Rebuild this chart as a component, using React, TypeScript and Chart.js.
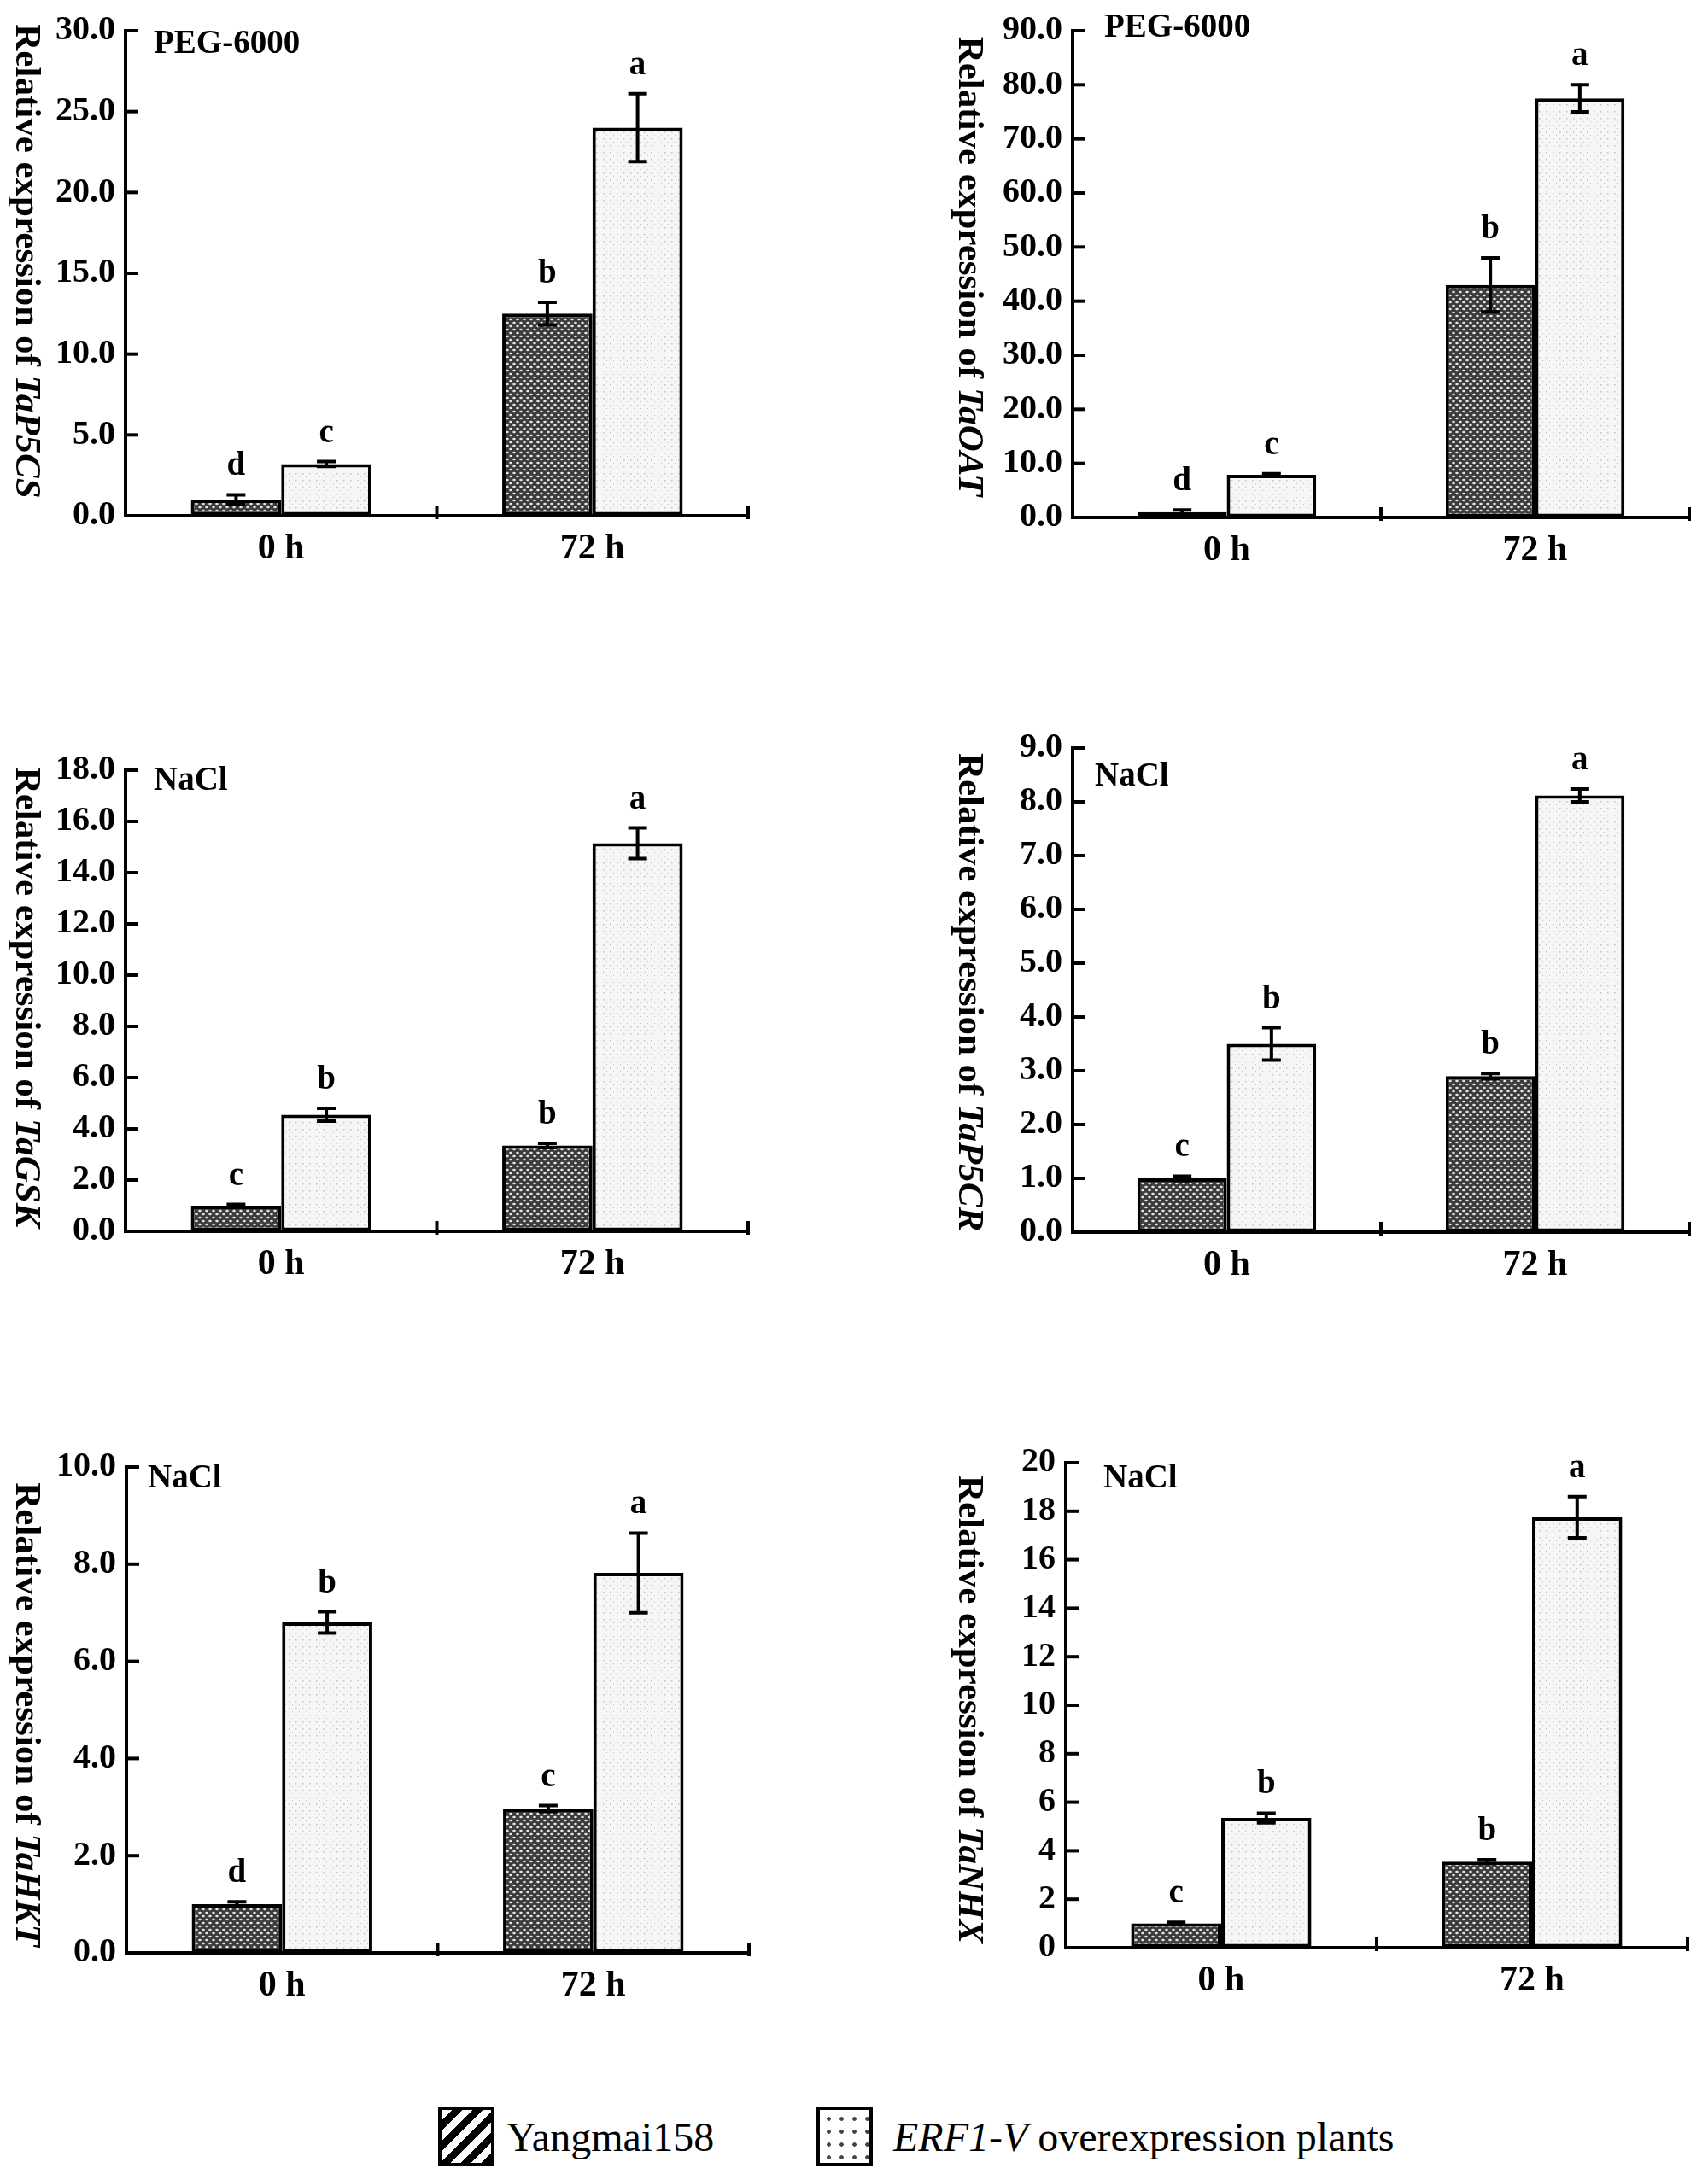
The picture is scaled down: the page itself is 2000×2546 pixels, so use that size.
import React, { useEffect, useRef } from "react";
import { Chart, registerables } from "chart.js";

Chart.register(...registerables);

const FONT = '"Times New Roman", "Liberation Serif", serif';

// ---- data ----
const timePoints = ["0 h", "72 h"];
const seriesLabels = ["Yangmai158", "ERF1-V overexpression plants"];
const genes = ["TaP5CS", "TaOAT", "TaGSK", "TaP5CR", "TaHKT", "TaNHX"];
const treatments = ["PEG-6000", "PEG-6000", "NaCl", "NaCl", "NaCl", "NaCl"];

const yangmaiMeans = [
  [1.0, 12.5],
  [1.0, 43.0],
  [1.0, 3.35],
  [1.0, 2.9],
  [1.0, 2.97],
  [1.0, 3.55],
];
const yangmaiErrors = [
  [0.3, 0.7],
  [0.4, 5.0],
  [0.05, 0.08],
  [0.04, 0.05],
  [0.05, 0.06],
  [0.05, 0.08],
];
const erfMeans = [
  [3.2, 24.0],
  [7.9, 77.5],
  [4.55, 15.15],
  [3.5, 8.12],
  [6.8, 7.82],
  [5.35, 17.75],
];
const erfErrors = [
  [0.15, 2.1],
  [0.2, 2.5],
  [0.25, 0.6],
  [0.3, 0.12],
  [0.22, 0.82],
  [0.2, 0.85],
];
const yangmaiLetters = [
  ["d", "b"],
  ["d", "b"],
  ["c", "b"],
  ["c", "b"],
  ["d", "c"],
  ["c", "b"],
];
const erfLetters = [
  ["c", "a"],
  ["c", "a"],
  ["b", "a"],
  ["b", "a"],
  ["b", "a"],
  ["b", "a"],
];
const axisMax = [30, 90, 18, 9, 10, 20];
const axisStep = [5, 10, 2, 1, 2, 2];
const tickDecimals = [1, 1, 1, 1, 1, 0];

// ---- layout (page pixels) ----
type Frame = {
  x: number;
  y: number;
  w: number;
  h: number;
  left: number;
  top: number;
  right: number;
  bottom: number;
  titleX: number;
  titleY: number;
  noteX: number;
  noteY: number;
};

const frames: Frame[] = [
  { x: 0, y: 0, w: 1000, h: 700, left: 147, top: 35, right: 876, bottom: 604, titleX: 30, titleY: 306, noteX: 180, noteY: 52 },
  { x: 1000, y: 0, w: 1000, h: 700, left: 1256, top: 30, right: 1978, bottom: 606, titleX: 1134, titleY: 312, noteX: 1293, noteY: 33 },
  { x: 0, y: 840, w: 1000, h: 700, left: 147, top: 902, right: 876, bottom: 1442, titleX: 30, titleY: 1168, noteX: 180, noteY: 915 },
  { x: 1000, y: 840, w: 1000, h: 700, left: 1256, top: 876, right: 1978, bottom: 1443, titleX: 1134, titleY: 1162, noteX: 1282, noteY: 910 },
  { x: 0, y: 1670, w: 1000, h: 700, left: 148, top: 1718, right: 877, bottom: 2287, titleX: 30, titleY: 2008, noteX: 173, noteY: 1732 },
  { x: 1000, y: 1670, w: 1000, h: 700, left: 1248, top: 1713, right: 1976, bottom: 2281, titleX: 1134, titleY: 2002, noteX: 1292, noteY: 1732 },
];

function makePattern(ctx: CanvasRenderingContext2D, dark: boolean) {
  const tile = document.createElement("canvas");
  tile.width = 8;
  tile.height = 8;
  const t = tile.getContext("2d")!;
  if (dark) {
    t.fillStyle = "#3c3c3c";
    t.fillRect(0, 0, 8, 8);
    t.fillStyle = "#e6e6e6";
    t.beginPath();
    t.ellipse(2, 2, 1.8, 1.3, 0, 0, Math.PI * 2);
    t.ellipse(6, 6, 1.8, 1.3, 0, 0, Math.PI * 2);
    t.fill();
  } else {
    t.fillStyle = "#f6f6f6";
    t.fillRect(0, 0, 8, 8);
    t.fillStyle = "#c4c4c4";
    t.fillRect(2, 2, 1.5, 1.5);
    t.fillRect(6, 6, 1, 1);
  }
  return ctx.createPattern(tile, "repeat") as CanvasPattern;
}

const decorPlugin = (idx: number) => ({
  id: "panelDecor",
  afterDatasetsDraw(chart: any) {
    const ctx: CanvasRenderingContext2D = chart.ctx;
    const f = frames[idx];
    const xs = chart.scales.x;
    const ys = chart.scales.y;
    const area = chart.chartArea;
    ctx.save();
    ctx.strokeStyle = "#000";
    ctx.fillStyle = "#000";

    // inward ticks on the y axis
    ctx.lineWidth = 4;
    ys.ticks.forEach((t: any) => {
      const y = ys.getPixelForValue(t.value);
      ctx.beginPath();
      ctx.moveTo(area.left, y);
      ctx.lineTo(area.left + 15, y);
      ctx.stroke();
    });

    // x axis ticks at category boundaries
    const mid = (xs.getPixelForValue(0) + xs.getPixelForValue(1)) / 2;
    [mid, area.right].forEach((x) => {
      ctx.beginPath();
      ctx.moveTo(x, area.bottom + 4);
      ctx.lineTo(x, area.bottom - 12);
      ctx.stroke();
    });

    // error bars and significance letters
    const series = [
      { means: yangmaiMeans, errors: yangmaiErrors, letters: yangmaiLetters },
      { means: erfMeans, errors: erfErrors, letters: erfLetters },
    ];
    series.forEach((s, dsIdx) => {
      const meta = chart.getDatasetMeta(dsIdx);
      meta.data.forEach((bar: any, i: number) => {
        const cx = bar.x;
        const m = s.means[idx][i];
        const e = s.errors[idx][i];
        const yTop = ys.getPixelForValue(m + e);
        const yBot = ys.getPixelForValue(m - e);
        ctx.lineWidth = 4;
        ctx.beginPath();
        ctx.moveTo(cx, yTop);
        ctx.lineTo(cx, yBot);
        ctx.moveTo(cx - 11, yTop);
        ctx.lineTo(cx + 11, yTop);
        ctx.moveTo(cx - 11, yBot);
        ctx.lineTo(cx + 11, yBot);
        ctx.stroke();
        ctx.font = `bold 39px ${FONT}`;
        ctx.textAlign = "center";
        ctx.textBaseline = "alphabetic";
        ctx.fillText(s.letters[idx][i], cx, yTop - 23);
      });
    });

    // treatment note
    ctx.font = `bold 39px ${FONT}`;
    ctx.textAlign = "left";
    ctx.textBaseline = "middle";
    ctx.fillText(treatments[idx], f.noteX - f.x, f.noteY - f.y);

    // rotated y title, reading top to bottom
    const pre = "Relative expression of ";
    const gene = genes[idx];
    ctx.translate(f.titleX - f.x, f.titleY - f.y);
    ctx.rotate(Math.PI / 2);
    ctx.font = `bold 43px ${FONT}`;
    const w1 = ctx.measureText(pre).width;
    ctx.font = `italic bold 43px ${FONT}`;
    const w2 = ctx.measureText(gene).width;
    const start = -(w1 + w2) / 2;
    ctx.textAlign = "left";
    ctx.textBaseline = "middle";
    ctx.font = `bold 43px ${FONT}`;
    ctx.fillText(pre, start, 0);
    ctx.font = `italic bold 43px ${FONT}`;
    ctx.fillText(gene, start + w1, 0);
    ctx.restore();
  },
});

export default function App() {
  const refs = useRef<(HTMLCanvasElement | null)[]>([]);

  useEffect(() => {
    const charts: Chart[] = [];
    frames.forEach((f, idx) => {
      const canvas = refs.current[idx];
      if (!canvas) return;
      const ctx = canvas.getContext("2d");
      if (!ctx) return;
      const darkFill = makePattern(ctx, true);
      const lightFill = makePattern(ctx, false);

      charts.push(
        new Chart(ctx, {
          type: "bar",
          data: {
            labels: timePoints,
            datasets: [
              {
                label: seriesLabels[0],
                data: yangmaiMeans[idx],
                backgroundColor: darkFill,
                borderColor: "#000",
                borderWidth: 4,
                borderSkipped: false,
                barPercentage: 1,
                categoryPercentage: 0.58,
              },
              {
                label: seriesLabels[1],
                data: erfMeans[idx],
                backgroundColor: lightFill,
                borderColor: "#000",
                borderWidth: 4,
                borderSkipped: false,
                barPercentage: 1,
                categoryPercentage: 0.58,
              },
            ],
          },
          options: {
            animation: false,
            responsive: false,
            layout: {
              padding: {
                left: 0,
                top: f.top - f.y,
                right: f.x + f.w - f.right,
                bottom: 0,
              },
            },
            plugins: {
              legend: { display: false },
              tooltip: { enabled: false },
            },
            scales: {
              x: {
                type: "category",
                offset: true,
                grid: { display: true, drawOnChartArea: false, drawTicks: false },
                border: { display: true, color: "#000", width: 4 },
                ticks: {
                  color: "#000",
                  font: { family: FONT, size: 42, weight: "bold" },
                  padding: 14,
                },
                afterFit: (s: any) => {
                  s.height = f.y + f.h - f.bottom;
                },
              },
              y: {
                min: 0,
                max: axisMax[idx],
                grid: { display: true, drawOnChartArea: false, drawTicks: false },
                border: { display: true, color: "#000", width: 4 },
                ticks: {
                  stepSize: axisStep[idx],
                  color: "#000",
                  font: { family: FONT, size: 40, weight: "bold" },
                  padding: 12,
                  callback: (v: any) => Number(v).toFixed(tickDecimals[idx]),
                },
                afterFit: (s: any) => {
                  s.width = f.left - f.x;
                },
              },
            },
          },
          plugins: [decorPlugin(idx)],
        })
      );
    });
    return () => charts.forEach((c) => c.destroy());
  }, []);

  const italicPart = seriesLabels[1].split(" ")[0];
  const restPart = seriesLabels[1].slice(italicPart.length);

  return (
    <div
      style={{
        position: "absolute",
        left: 0,
        top: 0,
        width: 2000,
        height: 2546,
        background: "#fff",
        overflow: "hidden",
      }}
    >
      {frames.map((f, idx) => (
        <canvas
          key={idx}
          ref={(el) => {
            refs.current[idx] = el;
          }}
          width={f.w}
          height={f.h}
          style={{ position: "absolute", left: f.x, top: f.y, width: f.w, height: f.h }}
        />
      ))}

      {/* legend */}
      <div
        style={{
          position: "absolute",
          left: 513,
          top: 2467,
          width: 66,
          height: 70,
          boxSizing: "border-box",
          border: "4px solid #000",
          background: "repeating-linear-gradient(135deg, #fff 0 9px, #000 9px 17px)",
        }}
      />
      <div
        style={{
          position: "absolute",
          left: 593,
          top: 2467,
          height: 70,
          display: "flex",
          alignItems: "center",
          font: `48px ${FONT}`,
          color: "#000",
          whiteSpace: "nowrap",
        }}
      >
        {seriesLabels[0]}
      </div>
      <div
        style={{
          position: "absolute",
          left: 956,
          top: 2467,
          width: 66,
          height: 70,
          boxSizing: "border-box",
          border: "4px solid #000",
          background:
            "radial-gradient(circle, #444 2px, transparent 2.6px) 3px 3px / 15px 15px, #fff",
        }}
      />
      <div
        style={{
          position: "absolute",
          left: 1046,
          top: 2467,
          height: 70,
          display: "flex",
          alignItems: "center",
          font: `48px ${FONT}`,
          color: "#000",
          whiteSpace: "pre",
        }}
      >
        <i>{italicPart}</i>
        {restPart}
      </div>
    </div>
  );
}
